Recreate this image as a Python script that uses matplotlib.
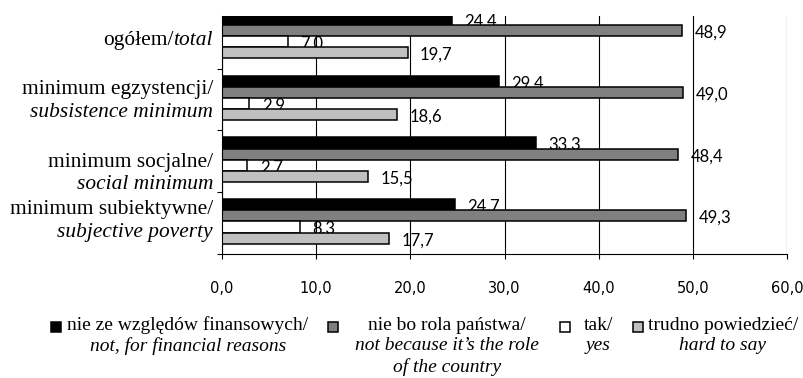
import matplotlib
matplotlib.use("Agg")
import matplotlib.pyplot as plt
from matplotlib.patches import Rectangle
import numpy as np

# --- data -------------------------------------------------------------
categories_pl = ["ogółem/", "minimum egzystencji/", "minimum socjalne/", "minimum subiektywne/"]
categories_en = ["total", "subsistence minimum", "social minimum", "subjective poverty"]

financial = [24.4, 29.4, 33.3, 24.7]     # nie ze względów finansowych
state_role = [48.9, 49.0, 48.4, 49.3]    # nie bo rola państwa
yes = [7.0, 2.9, 2.7, 8.3]               # tak
hard_to_say = [19.7, 18.6, 15.5, 17.7]   # trudno powiedzieć

x_ticks = [0, 10, 20, 30, 40, 50, 60]
x_tick_labels = ["0,0", "10,0", "20,0", "30,0", "40,0", "50,0", "60,0"]

legend_pl = ["nie ze względów finansowych/", "nie bo rola państwa/", "tak/", "trudno powiedzieć/"]
legend_en = [["not, for financial reasons"], ["not because it’s the role", "of the country"],
             ["yes"], ["hard to say"]]

series = [financial, state_role, yes, hard_to_say]
fills = ["#000000", "#808080", "#ffffff", "#c0c0c0"]

# --- figure -----------------------------------------------------------
W, H = 804, 378
fig = plt.figure(figsize=(W / 100, H / 100), dpi=100)
ax = fig.add_axes([222 / W, 1 - 254 / H, 565 / W, 238 / H])

SERIF = "Liberation Serif"
CAT_FS = 15.4
bar_h = 0.18
n = len(categories_pl)
pos = np.arange(n)

for i, (vals, col) in enumerate(zip(series, fills)):
    yc = pos - 0.5 + 0.113 + bar_h * (i + 0.5)
    ax.barh(yc, vals, height=bar_h, color=col, edgecolor="black",
            linewidth=1.1, zorder=2)
    for y, v in zip(yc, vals):
        ax.annotate(f"{v:.1f}".replace(".", ","), (v, y), xytext=(9, -1.5),
                    textcoords="offset points", va="center", ha="left",
                    fontsize=12, family="Lato", color="black", zorder=1.5)

ax.set_xlim(0, 60)
ax.set_ylim(3.5, -0.354)
ax.set_xticks(x_ticks)
ax.set_xticklabels(x_tick_labels, family="DejaVu Sans", fontsize=10.5)
ax.set_yticks([0.5, 1.5, 2.5, 3.5])
ax.set_yticklabels([])
ax.tick_params(axis="x", direction="out", length=3.6, width=0.8, pad=16, colors="black")
ax.tick_params(axis="y", direction="out", length=3.6, width=0.8)
ax.xaxis.grid(True, color="black", linewidth=0.8)
ax.set_axisbelow(True)
for s in ("top", "right"):
    ax.spines[s].set_visible(False)
for s in ("left", "bottom"):
    ax.spines[s].set_linewidth(0.8)
    ax.spines[s].set_color("black")

# category labels: Polish on top, English in italics
label_shift = [0.035, 0.02, 0.197, -0.04]
ytr = ax.get_yaxis_transform()
lx = -9 / 565
for k in range(n):
    yk = pos[k] + label_shift[k]
    if k == 0:
        continue
    ax.text(lx, yk - 0.185, categories_pl[k], transform=ytr, ha="right", va="center",
            family=SERIF, fontsize=CAT_FS)
    ax.text(lx, yk + 0.185, categories_en[k], transform=ytr, ha="right", va="center",
            family=SERIF, style="italic", fontsize=CAT_FS)

# single-line first category: "ogółem/" followed by italic "total"
first_en = ax.text(lx, pos[0] + label_shift[0], categories_en[0], transform=ytr,
                   ha="right", va="center", family=SERIF, style="italic", fontsize=CAT_FS)
fig.canvas.draw()
bb = first_en.get_window_extent(fig.canvas.get_renderer())
x_left = ax.transAxes.inverted().transform((bb.x0, bb.y0))[0]
ax.text(x_left, pos[0] + label_shift[0], categories_pl[0], transform=ytr, ha="right",
        va="center", family=SERIF, fontsize=CAT_FS)

# legend
marker_x = [51, 328, 560, 633]
text_cx = [188, 447, 598, 723]
line_y = [325, 346, 367]
for j in range(4):
    fig.patches.append(Rectangle((marker_x[j] / W, 1 - 332 / H), 10 / W, 10 / H,
                                 transform=fig.transFigure, facecolor=fills[j],
                                 edgecolor="black", linewidth=1.1))
    fig.text(text_cx[j] / W, 1 - line_y[0] / H, legend_pl[j], ha="center", va="center",
             family=SERIF, fontsize=14)
    for li, line in enumerate(legend_en[j]):
        fig.text(text_cx[j] / W, 1 - line_y[li + 1] / H, line, ha="center", va="center",
                 family=SERIF, style="italic", fontsize=14)

fig.savefig("out.png", dpi=100)
